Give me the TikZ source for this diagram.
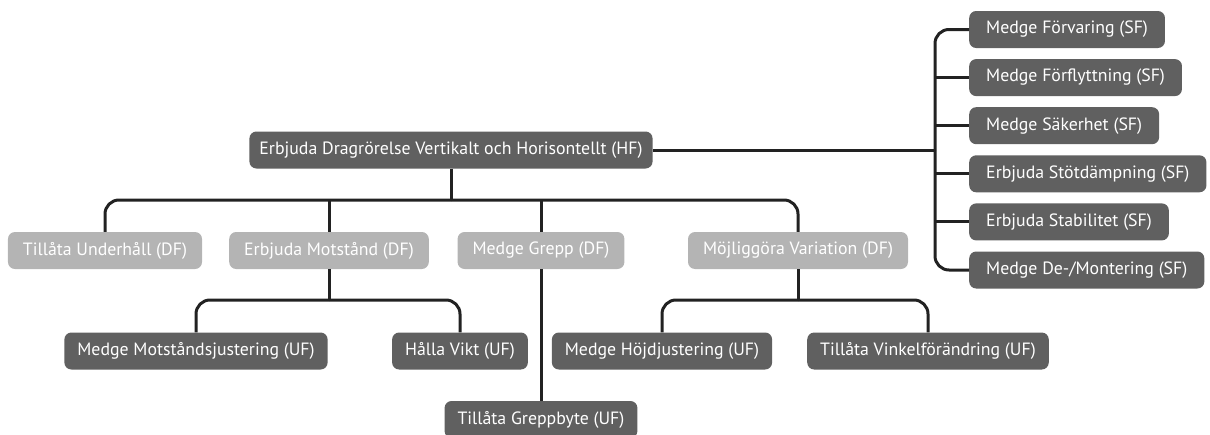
\documentclass[tikz,border=0pt]{standalone}
\usepackage{fontspec}
\setmainfont{PT Sans}
\usetikzlibrary{positioning}

\definecolor{boxdark}{RGB}{96,96,96}
\definecolor{boxlight}{RGB}{180,180,180}
\definecolor{linkcol}{RGB}{34,34,34}

\tikzset{
  fn/.style={rounded corners=7pt, text=white, minimum height=37pt, inner xsep=10pt,
    font=\fontsize{17.8}{20}\selectfont},
  hfbox/.style={fn, fill=boxdark},
  sfbox/.style={fn, fill=boxdark, anchor=west, inner xsep=17pt},
  dfbox/.style={fn, fill=boxlight, inner xsep=15pt},
  ufbox/.style={fn, fill=boxdark, inner xsep=13pt},
  link/.style={draw=linkcol, line width=3pt},
  elbow/.style={link, rounded corners=14pt}
}

\begin{document}
\begin{tikzpicture}[x=1pt,y=-1pt]
\useasboundingbox (0,0) rectangle (1210,434);

\node[hfbox] (hf) at (451,150) {Erbjuda Dragrörelse Vertikalt och Horisontellt (HF)};

\foreach \n/\t [count=\i from 0] in {sfa/{Medge Förvaring (SF)},
    sfb/{Medge Förflyttning (SF)}, sfc/{Medge Säkerhet (SF)},
    sfd/{Erbjuda Stötdämpning (SF)}, sfe/{Erbjuda Stabilitet (SF)},
    sff/{Medge De-/Montering (SF)}}
  \node[sfbox] (\n) at (969,29.5+48.1*\i) {\t};

\node[dfbox] (under) at (105,250.5) {Tillåta Underhåll (DF)};
\node[dfbox] (mot)   at (329,250.5) {Erbjuda Motstånd (DF)};
\node[dfbox] (grepp) at (541,250.5) {Medge Grepp (DF)};
\node[dfbox] (vari)  at (798,250.5) {Möjliggöra Variation (DF)};

\node[ufbox] (mjust) at (196,351) {Medge Motståndsjustering (UF)};
\node[ufbox] (vikt)  at (460,351) {Hålla Vikt (UF)};
\node[ufbox] (hojd)  at (662,351) {Medge Höjdjustering (UF)};
\node[ufbox] (vink)  at (928,351) {Tillåta Vinkelförändring (UF)};
\node[ufbox] (gbyte) at (541,419.5) {Tillåta Greppbyte (UF)};

\coordinate (top) at (hf.south |- 0,200);
\coordinate (right) at (935,0 |- hf.east);
\coordinate (mbus) at (mot.south |- 0,300);
\coordinate (vbus) at (vari.south |- 0,300);

\draw[link] (hf.south) -- (top);
\draw[elbow] (top) -| (under.north);
\draw[elbow] (top) -| (vari.north);
\draw[link] (mot.north |- top) -- (mot.north);
\draw[link] (grepp.north |- top) -- (grepp.north);

\draw[link] (hf.east) -- (right);
\draw[elbow] (right) |- (sfa.west);
\draw[elbow] (right) |- (sff.west);
\foreach \n in {sfb,sfc,sfd,sfe}
  \draw[link] (right |- \n.west) -- (\n.west);

\draw[link] (mot.south) -- (mbus);
\draw[elbow] (mbus) -| (mjust.north);
\draw[elbow] (mbus) -| (vikt.north);
\draw[link] (vari.south) -- (vbus);
\draw[elbow] (vbus) -| (hojd.north);
\draw[elbow] (vbus) -| (vink.north);
\draw[link] (grepp.south) -- (gbyte.north);
\end{tikzpicture}
\end{document}
